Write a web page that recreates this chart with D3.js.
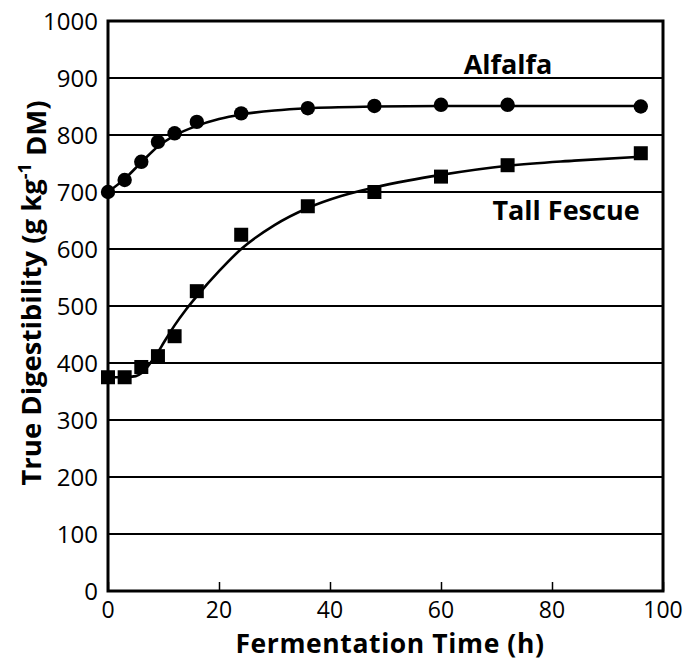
<!DOCTYPE html>
<html>
<head>
<meta charset="utf-8">
<script src="https://cdn.jsdelivr.net/npm/d3@7"></script>
<style>
  html, body { margin: 0; padding: 0; background: #fff; }
  svg { display: block; }
  text { font-family: "Open Sans", "DejaVu Sans", sans-serif; fill: #000; }
</style>
</head>
<body>
<svg id="chart" width="686" height="661"></svg>
<script>
// ---- Data ----
const times = [0, 3, 6, 9, 12, 16, 24, 36, 48, 60, 72, 96];
const alfalfaValues = [700, 721, 753, 788, 803, 823, 838, 847, 851, 853, 853, 850];
const fescueValues  = [375, 375, 393, 412, 447, 526, 625, 675, 700, 727, 747, 768];

// fitted curves
const alfalfaCurveT = [0, 3, 6, 9, 12, 16, 20, 24, 30, 36, 48, 60, 72, 96];
const alfalfaCurveV = [700, 723, 752, 780, 799, 816, 828, 836, 843, 847, 850, 851, 851, 851];
const fescueCurveT  = [0, 3, 5, 6, 7, 8, 9, 10, 12, 14, 16, 20, 24, 30, 36, 42, 48, 54, 60, 72, 84, 96];
const fescueCurveV  = [375, 375, 377, 382, 392, 405, 419, 435, 466, 493, 517, 561, 600, 642, 672, 693, 708, 720, 730, 746, 755, 762];

const xTicks = [0, 20, 40, 60, 80, 100];
const yTicks = [0, 100, 200, 300, 400, 500, 600, 700, 800, 900, 1000];

const seriesLabels = ["Alfalfa", "Tall Fescue"];
const xTitle = "Fermentation Time (h)";

// ---- Layout ----
const svg = d3.select("#chart");
const pL = 108, pR = 663, pT = 21, pB = 591;

const x = d3.scaleLinear().domain([0, 100]).range([pL, pR]);
const y = d3.scaleLinear().domain([0, 1000]).range([pB, pT]);

// grid lines
svg.append("g")
  .selectAll("line")
  .data(yTicks.filter(d => d > 0 && d < 1000))
  .join("line")
  .attr("x1", pL).attr("x2", pR)
  .attr("y1", d => y(d)).attr("y2", d => y(d))
  .attr("stroke", "#000").attr("stroke-width", 2);

// x axis inner ticks
const xAxis = d3.axisBottom(x).tickValues(xTicks).tickSize(-9).tickFormat("");
const gx = svg.append("g").attr("transform", `translate(0,${pB})`).call(xAxis);
gx.select(".domain").remove();
gx.selectAll(".tick line").attr("stroke", "#000").attr("stroke-width", 1.5);

// x tick labels
svg.append("g")
  .selectAll("text")
  .data(xTicks)
  .join("text")
  .attr("x", d => x(d))
  .attr("y", 617.5)
  .attr("text-anchor", "middle")
  .style("font-size", "23px")
  .text(d => d);

// y tick labels
svg.append("g")
  .selectAll("text")
  .data(yTicks)
  .join("text")
  .attr("x", 98)
  .attr("y", d => y(d))
  .attr("dy", "0.36em")
  .attr("text-anchor", "end")
  .style("font-size", "24px")
  .text(d => d);

// frame
svg.append("rect")
  .attr("x", pL).attr("y", pT)
  .attr("width", pR - pL).attr("height", pB - pT)
  .attr("fill", "none").attr("stroke", "#000").attr("stroke-width", 3);

// curves
const line = d3.line().x(d => x(d[0])).y(d => y(d[1])).curve(d3.curveMonotoneX);
svg.append("path")
  .datum(d3.zip(alfalfaCurveT, alfalfaCurveV))
  .attr("d", line)
  .attr("fill", "none").attr("stroke", "#000").attr("stroke-width", 2.6);
svg.append("path")
  .datum(d3.zip(fescueCurveT, fescueCurveV))
  .attr("d", line)
  .attr("fill", "none").attr("stroke", "#000").attr("stroke-width", 2.6);

// markers
svg.append("g")
  .selectAll("circle")
  .data(d3.zip(times, alfalfaValues))
  .join("circle")
  .attr("cx", d => x(d[0])).attr("cy", d => y(d[1]))
  .attr("r", 7.2).attr("fill", "#000");

const sq = 14;
svg.append("g")
  .selectAll("rect")
  .data(d3.zip(times, fescueValues))
  .join("rect")
  .attr("x", d => x(d[0]) - sq / 2).attr("y", d => y(d[1]) - sq / 2)
  .attr("width", sq).attr("height", sq).attr("fill", "#000");

// series labels
svg.append("text")
  .attr("x", 508).attr("y", 74)
  .attr("text-anchor", "middle")
  .style("font-size", "27px").style("font-weight", "700")
  .text(seriesLabels[0]);
svg.append("text")
  .attr("x", 566).attr("y", 220)
  .attr("text-anchor", "middle")
  .style("font-size", "27px").style("font-weight", "700")
  .text(seriesLabels[1]);

// x title
svg.append("text")
  .attr("x", 390).attr("y", 653)
  .attr("text-anchor", "middle")
  .style("font-size", "26.5px").style("font-weight", "700")
  .style("letter-spacing", "0.6px")
  .text(xTitle);

// y title
const yt = svg.append("text")
  .attr("transform", "translate(41,293) rotate(-90)")
  .attr("text-anchor", "middle")
  .style("font-size", "27.5px").style("font-weight", "700");
yt.append("tspan").text("True Digestibility (g kg");
yt.append("tspan").attr("dy", "-0.55em").style("font-size", "18px").text("-1");
yt.append("tspan").attr("dy", "0.55em").text(" DM)");
</script>
</body>
</html>
